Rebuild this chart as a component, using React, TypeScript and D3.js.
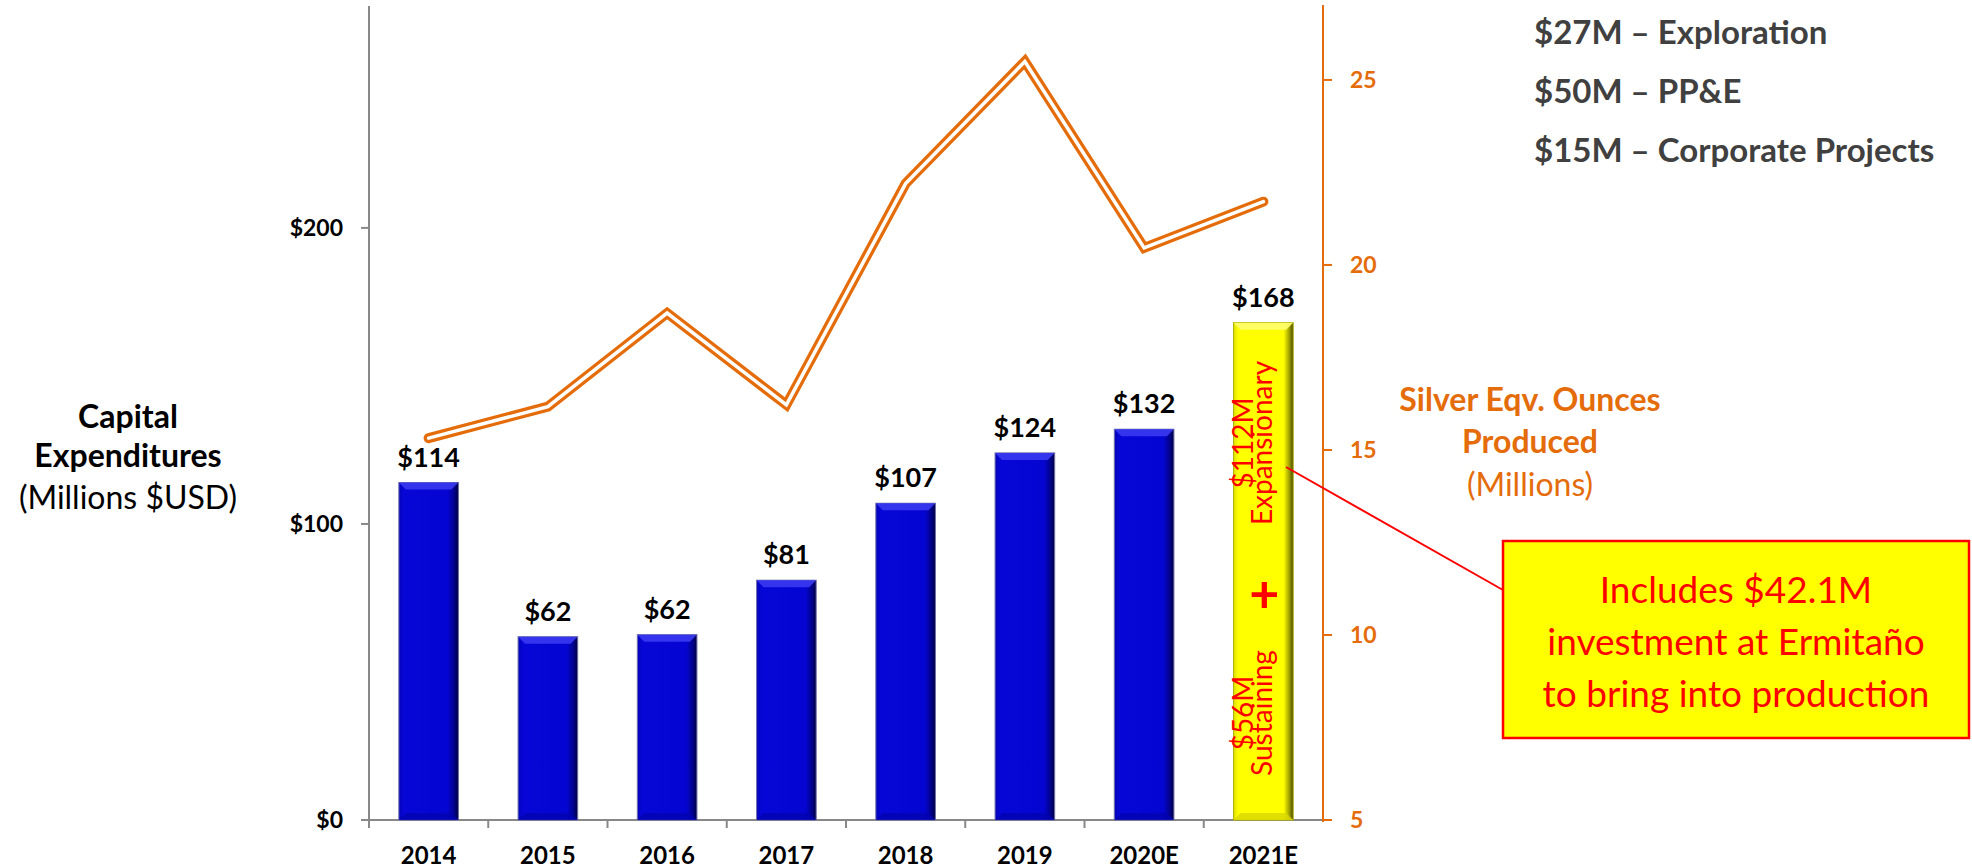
import React from "react";
import * as d3 from "d3";

const categories = ["2014", "2015", "2016", "2017", "2018", "2019", "2020E", "2021E"];
const capex = [114, 61.9, 62.6, 81, 107, 124, 132, 168];
const capexLabels = ["$114", "$62", "$62", "$81", "$107", "$124", "$132", "$168"];
const silverOz = [15.32, 16.17, 18.7, 16.22, 22.2, 25.5, 20.46, 21.71];
const leftTicks = [0, 100, 200];
const rightTicks = [5, 10, 15, 20, 25];
const breakdown = ["$27M – Exploration", "$50M – PP&E", "$15M – Corporate Projects"];
const highlightCategory = "2021E";
const leftTitle = ["Capital", "Expenditures", "(Millions $USD)"];
const rightTitle = ["Silver Eqv. Ounces", "Produced", "(Millions)"];
const calloutLines = ["Includes $42.1M", "investment at Ermitaño", "to bring into production"];
const splitTop = ["$112M", "Expansionary"];
const splitBottom = ["$56M", "Sustaining"];

const W = 1972;
const H = 868;
const X0 = 369;
const X1 = 1323;
const Y0 = 820;
const YT = 10;
const FONT = "Lato, 'Open Sans', sans-serif";
const ORANGE = "#E46C0A";

export default function App() {
  const x = d3.scaleBand<string>().domain(categories).range([X0, X1]).paddingInner(0.5).paddingOuter(0.25);
  const yL = d3.scaleLinear().domain([0, 273.6]).range([Y0, YT]);
  const yR = d3.scaleLinear().domain([5, 26.89]).range([Y0, YT]);
  const step = x.step();
  const bw = x.bandwidth();
  const line = d3
    .line<number>()
    .x((_, i) => (x(categories[i]) as number) + bw / 2)
    .y((d) => yR(d));
  const path = line(silverOz) || "";
  const boundaries = d3.range(categories.length + 1).map((i) => X0 + i * step);

  const hx = (x(highlightCategory) as number) + bw / 2;

  return (
    <svg width={W} height={H} style={{ position: "absolute", left: 0, top: 0, background: "#fff" }} fontFamily={FONT}>
      <defs>
        <linearGradient id="blueG" x1="0" x2="1" y1="0" y2="0">
          <stop offset="0" stopColor="#0404B8" />
          <stop offset="0.08" stopColor="#0606D6" />
          <stop offset="0.82" stopColor="#0505D2" />
          <stop offset="0.93" stopColor="#02028A" />
          <stop offset="1" stopColor="#000040" />
        </linearGradient>
        <linearGradient id="yellowG" x1="0" x2="1" y1="0" y2="0">
          <stop offset="0" stopColor="#E0E000" />
          <stop offset="0.08" stopColor="#FFFF00" />
          <stop offset="0.84" stopColor="#FFFF00" />
          <stop offset="0.94" stopColor="#9A9A00" />
          <stop offset="1" stopColor="#404000" />
        </linearGradient>
      </defs>

      {/* left axis */}
      <line x1={X0} x2={X0} y1={YT - 4} y2={Y0 + 8} stroke="#888" strokeWidth={2} />
      {leftTicks.map((t) => (
        <g key={t}>
          <line x1={X0 - 8} x2={X0} y1={yL(t)} y2={yL(t)} stroke="#888" strokeWidth={2} />
          <text x={343} y={yL(t)} dy="0.36em" textAnchor="end" fontSize={23} fontWeight="bold" fill="#000">
            {d3.format("$,")(t)}
          </text>
        </g>
      ))}

      {/* x axis */}
      <line x1={X0} x2={X1} y1={Y0} y2={Y0} stroke="#888" strokeWidth={2} />
      {boundaries.slice(1, -1).map((b, i) => (
        <line key={i} x1={b} x2={b} y1={Y0} y2={Y0 + 8} stroke="#888" strokeWidth={2} />
      ))}
      {categories.map((c) => (
        <text key={c} x={(x(c) as number) + bw / 2} y={864} textAnchor="middle" fontSize={24} fontWeight="bold" fill="#000">
          {c}
        </text>
      ))}

      {/* bars */}
      {categories.map((c, i) => {
        const bx = x(c) as number;
        const by = yL(capex[i]);
        const bh = Y0 - by;
        const hl = c === highlightCategory;
        const bev = 7;
        return (
          <g key={c}>
            <rect x={bx} y={by} width={bw} height={bh} fill={hl ? "url(#yellowG)" : "url(#blueG)"} stroke={hl ? "#b0b000" : "#7070a8"} strokeWidth={1} />
            <polygon
              points={`${bx},${by} ${bx + bw},${by} ${bx + bw - bev},${by + bev} ${bx + bev},${by + bev}`}
              fill={hl ? "#FFFF70" : "#3A3AF2"}
              opacity={0.9}
            />
            <polygon
              points={`${bx},${Y0} ${bx + bw},${Y0} ${bx + bw - bev},${Y0 - bev} ${bx + bev},${Y0 - bev}`}
              fill={hl ? "#D8D800" : "#0303B0"}
              opacity={0.8}
            />
            <text x={bx + bw / 2} y={by - 16} textAnchor="middle" fontSize={27} fontWeight="bold" fill="#000">
              {capexLabels[i]}
            </text>
          </g>
        );
      })}

      {/* split labels inside highlight bar */}
      <g transform={`translate(${hx - 10},${443}) rotate(-90)`} fill="#FF0000" fontSize={28}>
        <text x={0} y={0} textAnchor="middle">{splitTop[0]}</text>
        <text x={0} y={19} textAnchor="middle">{splitTop[1]}</text>
      </g>
      <text x={hx + 1} y={592} textAnchor="middle" dominantBaseline="central" fontSize={52} fontWeight="bold" fill="#FF0000">
        +
      </text>
      <g transform={`translate(${hx - 10},${713}) rotate(-90)`} fill="#FF0000" fontSize={28}>
        <text x={0} y={0} textAnchor="middle">{splitBottom[0]}</text>
        <text x={0} y={19} textAnchor="middle">{splitBottom[1]}</text>
      </g>

      {/* line series */}
      <path d={path} fill="none" stroke={ORANGE} strokeWidth={10} strokeLinejoin="miter" strokeLinecap="round" />
      <path d={path} fill="none" stroke="#fff" strokeWidth={3.5} strokeLinejoin="miter" strokeLinecap="round" />

      {/* right axis */}
      <line x1={X1} x2={X1} y1={YT - 5} y2={Y0 + 2} stroke={ORANGE} strokeWidth={2} />
      {rightTicks.map((t) => (
        <g key={t}>
          <line x1={X1} x2={X1 + 9} y1={yR(t)} y2={yR(t)} stroke={ORANGE} strokeWidth={2} />
          <text x={1350} y={yR(t)} dy="0.36em" textAnchor="start" fontSize={23} fontWeight="bold" fill={ORANGE}>
            {t}
          </text>
        </g>
      ))}

      {/* left title */}
      <g textAnchor="middle" fill="#000" fontSize={32}>
        <text x={128} y={428} fontWeight="bold">{leftTitle[0]}</text>
        <text x={128} y={467} fontWeight="bold">{leftTitle[1]}</text>
        <text x={128} y={509}>{leftTitle[2]}</text>
      </g>

      {/* right title */}
      <g textAnchor="middle" fill={ORANGE} fontSize={32}>
        <text x={1530} y={411} fontWeight="bold">{rightTitle[0]}</text>
        <text x={1530} y={453} fontWeight="bold">{rightTitle[1]}</text>
        <text x={1530} y={496}>{rightTitle[2]}</text>
      </g>

      {/* breakdown */}
      <g fill="#404040" fontSize={33} fontWeight="bold">
        {breakdown.map((b, i) => (
          <text key={b} x={1534} y={44 + i * 59}>
            {b}
          </text>
        ))}
      </g>

      {/* callout */}
      <line x1={1286} y1={467} x2={1503} y2={590} stroke="#FF0000" strokeWidth={2} />
      <rect x={1503} y={541} width={466} height={197} fill="#FFFF00" stroke="#FF0000" strokeWidth={2.5} />
      <g textAnchor="middle" fill="#FF0000" fontSize={37}>
        {calloutLines.map((l, i) => (
          <text key={l} x={1736} y={603 + i * 52}>
            {l}
          </text>
        ))}
      </g>
    </svg>
  );
}
